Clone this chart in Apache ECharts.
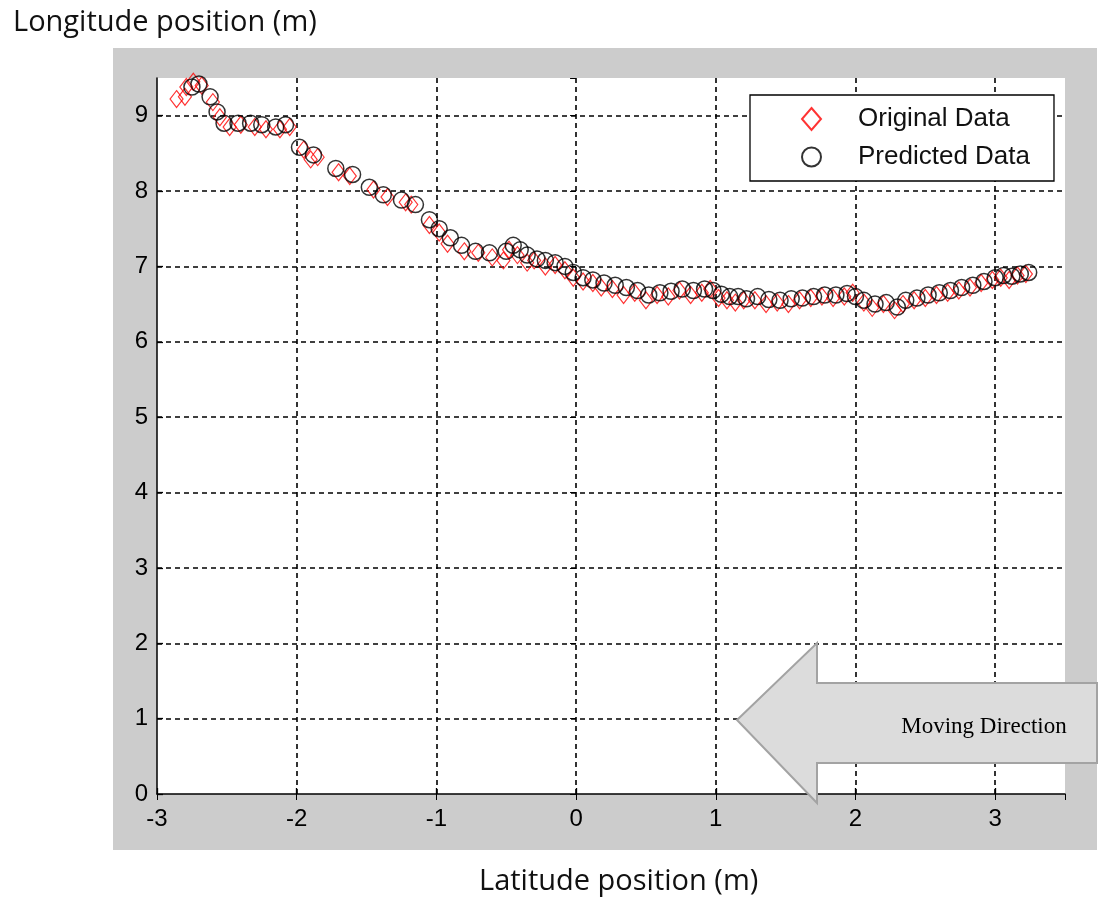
<!DOCTYPE html>
<html><head><meta charset="utf-8">
<script src="https://cdn.jsdelivr.net/npm/echarts@6/dist/echarts.min.js"></script>
<style>html,body{margin:0;padding:0;background:#fff;}#c{width:1107px;height:898px;}</style>
</head><body><div id="c"></div>
<script>
// Original Data (red diamonds): latitude (x) and longitude (y)
const origX = [-2.86,-2.80,-2.79,-2.74,-2.68,-2.60,-2.55,-2.48,-2.40,-2.30,-2.22,-2.12,-2.05,-1.95,-1.90,-1.85,-1.70,-1.62,-1.45,-1.35,-1.22,-1.18,-1.05,-0.98,-0.92,-0.80,-0.70,-0.60,-0.52,-0.48,-0.42,-0.35,-0.30,-0.22,-0.15,-0.08,-0.02,0.05,0.12,0.18,0.26,0.34,0.42,0.50,0.58,0.66,0.74,0.82,0.90,0.96,1.02,1.08,1.14,1.20,1.28,1.36,1.44,1.52,1.60,1.68,1.76,1.84,1.92,1.98,2.06,2.12,2.20,2.28,2.34,2.42,2.50,2.58,2.66,2.74,2.82,2.90,2.98,3.04,3.10,3.16,3.22];
const origY = [9.22,9.25,9.38,9.45,9.40,9.18,8.98,8.85,8.88,8.85,8.82,8.82,8.85,8.55,8.42,8.45,8.25,8.20,8.02,7.92,7.85,7.82,7.55,7.45,7.30,7.20,7.18,7.12,7.08,7.22,7.15,7.05,7.08,7.00,7.02,6.95,6.85,6.80,6.78,6.72,6.70,6.62,6.65,6.55,6.62,6.60,6.68,6.62,6.65,6.70,6.58,6.55,6.52,6.55,6.55,6.50,6.52,6.50,6.55,6.58,6.60,6.58,6.60,6.65,6.52,6.45,6.50,6.42,6.50,6.55,6.58,6.62,6.65,6.68,6.72,6.78,6.82,6.85,6.82,6.88,6.90];
// Predicted Data (black circles)
const predX = [-2.75,-2.70,-2.62,-2.57,-2.52,-2.42,-2.33,-2.25,-2.15,-2.08,-1.98,-1.88,-1.72,-1.60,-1.48,-1.38,-1.25,-1.15,-1.05,-0.98,-0.90,-0.82,-0.72,-0.62,-0.50,-0.45,-0.40,-0.35,-0.28,-0.22,-0.15,-0.08,-0.02,0.05,0.12,0.20,0.28,0.36,0.44,0.52,0.60,0.68,0.76,0.84,0.92,0.98,1.04,1.10,1.16,1.22,1.30,1.38,1.46,1.54,1.62,1.70,1.78,1.86,1.94,2.00,2.06,2.14,2.22,2.30,2.36,2.44,2.52,2.60,2.68,2.76,2.84,2.92,3.00,3.06,3.12,3.18,3.24];
const predY = [9.38,9.42,9.25,9.05,8.90,8.90,8.90,8.88,8.85,8.88,8.58,8.48,8.30,8.22,8.05,7.95,7.88,7.82,7.62,7.50,7.38,7.28,7.20,7.18,7.20,7.28,7.22,7.15,7.10,7.08,7.05,7.00,6.92,6.85,6.82,6.78,6.75,6.72,6.68,6.62,6.65,6.67,6.70,6.68,6.70,6.68,6.63,6.60,6.60,6.57,6.60,6.56,6.55,6.57,6.58,6.60,6.62,6.62,6.64,6.60,6.55,6.50,6.52,6.46,6.55,6.58,6.62,6.65,6.68,6.72,6.75,6.80,6.85,6.88,6.87,6.90,6.92];
const seriesNames = ['Original Data', 'Predicted Data'];
const xTicks = [-3,-2,-1,0,1,2,3];
const yTicks = [0,1,2,3,4,5,6,7,8,9];
const xTitle = 'Latitude position (m)';
const yTitle = 'Longitude position (m)';
const arrowText = 'Moving Direction';

const zip = (a, b) => a.map((v, i) => [v, b[i]]);
const chart = echarts.init(document.getElementById('c'), null, {renderer: 'canvas'});
const labelFont = {fontFamily: 'Liberation Sans, Arial, sans-serif', fontSize: 24, color: '#000'};
const gridLine = {show: true, showMaxLine: false, showMinLine: false, lineStyle: {color: '#000', type: [5, 4], width: 1.6}};
const fmt = v => (xTicks.indexOf(v) >= 0 || yTicks.indexOf(v) >= 0) && Number.isInteger(v) ? String(v) : '';

chart.setOption({
  animation: false,
  backgroundColor: '#fff',
  title: [
    {text: yTitle, left: 8, top: 3, textStyle: {fontFamily: 'Open Sans', fontSize: 29, fontWeight: 'normal', color: '#111'}},
    {text: xTitle, left: 474, top: 862, textStyle: {fontFamily: 'Open Sans', fontSize: 29, fontWeight: 'normal', color: '#111'}}
  ],
  grid: {left: 157, right: 42, top: 78, bottom: 104, show: true, backgroundColor: '#fff', borderWidth: 0, containLabel: false},
  xAxis: [
    {type: 'value', min: -3, max: 3.5, interval: 1, position: 'bottom',
     axisLine: {show: true, onZero: false, lineStyle: {color: '#000', width: 1.5}},
     axisTick: {show: true, inside: true, length: 6, lineStyle: {color: '#000', width: 1.3}},
     axisLabel: {...labelFont, margin: 13, formatter: fmt, showMaxLabel: false},
     splitLine: gridLine},
    {type: 'value', min: -3, max: 3.5, interval: 1, position: 'top',
     axisLine: {show: false}, axisTick: {show: true, inside: true, length: 6, lineStyle: {color: '#000'}},
     axisLabel: {show: false}, splitLine: {show: false}}
  ],
  yAxis: [
    {type: 'value', min: 0, max: 9.5, interval: 1, position: 'left',
     axisLine: {show: true, onZero: false, lineStyle: {color: '#000', width: 1.5}},
     axisTick: {show: true, inside: true, length: 6, lineStyle: {color: '#000', width: 1.3}},
     axisLabel: {...labelFont, margin: 9, formatter: fmt, showMaxLabel: false},
     splitLine: gridLine},
    {type: 'value', min: 0, max: 9.5, interval: 1, position: 'right',
     axisLine: {show: false}, axisTick: {show: true, inside: true, length: 6, lineStyle: {color: '#000'}},
     axisLabel: {show: false}, splitLine: {show: false}}
  ],
  legend: {
    orient: 'vertical', left: 750, top: 95,
    backgroundColor: '#fff', borderColor: '#000', borderWidth: 1.3,
    padding: [11, 24, 11, 51], itemGap: 12, itemWidth: 19, itemHeight: 22,
    textStyle: {fontFamily: 'Liberation Sans, Arial, sans-serif', fontSize: 26, color: '#111', padding: [0, 0, 0, 32]},
    data: [{name: seriesNames[0], icon: 'diamond'}, {name: seriesNames[1], icon: 'circle'}]
  },
  series: [
    {name: seriesNames[0], type: 'scatter', symbol: 'diamond', symbolSize: [13, 17],
     itemStyle: {color: 'rgba(255,255,255,0)', borderColor: '#ff0000', borderWidth: 1.2},
     data: zip(origX, origY), z: 3},
    {name: seriesNames[1], type: 'scatter', symbol: 'circle', symbolSize: 16,
     itemStyle: {color: 'rgba(255,255,255,0)', borderColor: '#000', borderWidth: 1.5},
     data: zip(predX, predY), z: 4}
  ],
  graphic: [
    {type: 'rect', z: -10, shape: {x: 113, y: 48, width: 984, height: 802}, style: {fill: '#cccccc'}},
    {type: 'polygon', z: 100,
     shape: {points: [[737, 720], [817, 643], [817, 683], [1097, 683], [1097, 763], [817, 763], [817, 803]]},
     style: {fill: '#dcdcdc', stroke: '#a3a3a3', lineWidth: 2}},
    {type: 'text', z: 101, x: 984, y: 727,
     style: {text: arrowText, fontFamily: 'Liberation Serif, Times New Roman, serif', fontSize: 23, fill: '#000', textAlign: 'center', textVerticalAlign: 'middle'}}
  ]
});
</script></body></html>
